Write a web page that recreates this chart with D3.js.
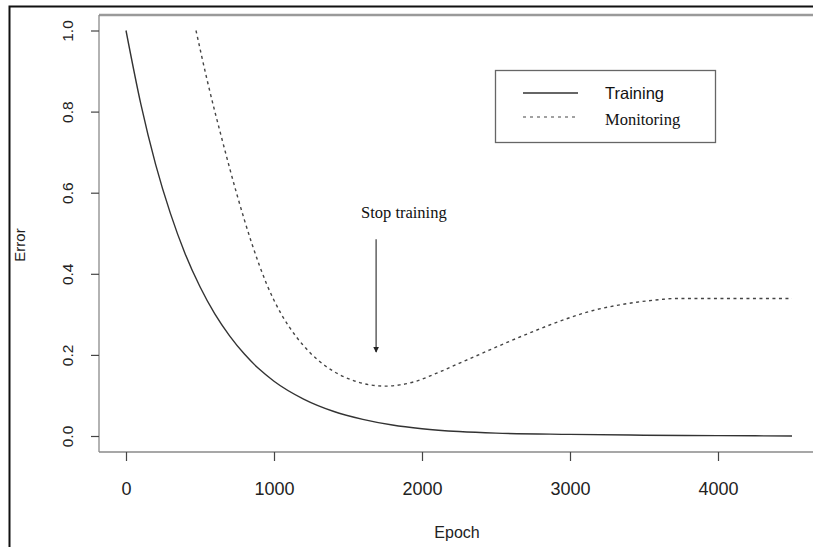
<!DOCTYPE html>
<html>
<head>
<meta charset="utf-8">
<script src="https://cdn.jsdelivr.net/npm/d3@7"></script>
<style>
  html, body { margin: 0; padding: 0; background: #fff; }
  svg { display: block; }
</style>
</head>
<body>
<svg id="chart" width="813" height="547"></svg>
<script>
// Training and monitoring error per epoch
const trainEpochs = [0, 100, 200, 300, 400, 500, 600, 700, 800, 900, 1000, 1200, 1400, 1600, 1800, 2000, 2250, 2500, 3000, 3500, 4000, 4500];
const trainError  = [1.0, 0.819, 0.670, 0.549, 0.449, 0.368, 0.301, 0.247, 0.202, 0.165, 0.135, 0.091, 0.061, 0.041, 0.027, 0.018, 0.011, 0.007, 0.004, 0.002, 0.001, 0.0];

const monitorEpochs = [473, 550, 650, 750, 850, 950, 1050, 1150, 1250, 1350, 1450, 1550, 1650, 1750, 1850, 1950, 2100, 2250, 2400, 2550, 2700, 2850, 3000, 3150, 3300, 3450, 3600, 3700, 3800, 4500];
const monitorError  = [1.0, 0.875, 0.73, 0.595, 0.475, 0.375, 0.30, 0.245, 0.203, 0.172, 0.15, 0.135, 0.126, 0.123, 0.126, 0.134, 0.155, 0.179, 0.203, 0.227, 0.25, 0.272, 0.292, 0.309, 0.321, 0.33, 0.336, 0.339, 0.339, 0.339];

const xTicks = [0, 1000, 2000, 3000, 4000];
const yTicks = [0.0, 0.2, 0.4, 0.6, 0.8, 1.0];

const seriesNames = ["Training", "Monitoring"];
const stopLabel = "Stop training";
const stopEpoch = 1690;
const stopFrom = 0.485, stopTo = 0.207;

const svg = d3.select("#chart");

// Scales
const x = d3.scaleLinear().domain([0, 1000]).range([126, 274]);
const y = d3.scaleLinear().domain([0, 1]).range([436, 30.5]);

// Outer frame (left and top)
svg.append("path")
  .attr("d", "M9.5,547 L9.5,6.5 L813,6.5")
  .attr("fill", "none").attr("stroke", "#111").attr("stroke-width", 2);

// Plot box
const box = { left: 99, top: 15, bottom: 452, right: 830 };
svg.append("line").attr("x1", box.left).attr("x2", box.right).attr("y1", box.top).attr("y2", box.top)
  .attr("stroke", "#9a9a9a").attr("stroke-width", 2.5);
svg.append("line").attr("x1", box.left).attr("x2", box.left).attr("y1", box.top).attr("y2", box.bottom)
  .attr("stroke", "#8a8a8a").attr("stroke-width", 1.3);
svg.append("line").attr("x1", box.left).attr("x2", box.right).attr("y1", box.bottom).attr("y2", box.bottom)
  .attr("stroke", "#8a8a8a").attr("stroke-width", 1.3);

// Y axis
const yAxis = d3.axisLeft(y).tickValues(yTicks).tickSize(8).tickFormat(d3.format(".1f"));
const gy = svg.append("g").attr("transform", `translate(${box.left},0)`).call(yAxis);
gy.select(".domain").remove();
gy.selectAll(".tick line").attr("stroke", "#444").attr("stroke-width", 1.2);
gy.selectAll(".tick text")
  .attr("x", null).attr("dy", null)
  .attr("transform", "translate(-32,0) rotate(-90)")
  .attr("text-anchor", "middle")
  .attr("dominant-baseline", "central")
  .attr("font-family", "'Liberation Sans', Arial, sans-serif")
  .attr("font-size", 15.5)
  .attr("fill", "#222");

// X axis
const xAxis = d3.axisBottom(x).tickValues(xTicks).tickSize(9).tickFormat(d3.format("d"));
const gx = svg.append("g").attr("transform", `translate(0,${box.bottom})`).call(xAxis);
gx.select(".domain").remove();
gx.selectAll(".tick line").attr("stroke", "#444").attr("stroke-width", 1.2);
gx.selectAll(".tick text")
  .attr("y", 43).attr("dy", null)
  .attr("font-family", "'Liberation Sans', Arial, sans-serif")
  .attr("font-size", 18)
  .attr("fill", "#222");

// Axis titles
svg.append("text").attr("x", 457).attr("y", 538)
  .attr("text-anchor", "middle")
  .attr("font-family", "'Liberation Sans', Arial, sans-serif")
  .attr("font-size", 16).attr("fill", "#222").text("Epoch");
svg.append("text")
  .attr("transform", "translate(25,245) rotate(-90)")
  .attr("text-anchor", "middle")
  .attr("font-family", "'Liberation Sans', Arial, sans-serif")
  .attr("font-size", 15).attr("fill", "#222").text("Error");

// Curves
const line = d3.line().x(d => x(d[0])).y(d => y(d[1])).curve(d3.curveMonotoneX);
svg.append("path")
  .datum(d3.zip(trainEpochs, trainError))
  .attr("d", line)
  .attr("fill", "none").attr("stroke", "#333").attr("stroke-width", 1.4);
svg.append("path")
  .datum(d3.zip(monitorEpochs, monitorError))
  .attr("d", line)
  .attr("fill", "none").attr("stroke", "#444").attr("stroke-width", 1.4)
  .attr("stroke-dasharray", "3,3.5");

// Annotation arrow
svg.append("defs").append("marker")
  .attr("id", "arrowhead").attr("viewBox", "0 0 10 10")
  .attr("refX", 9).attr("refY", 5)
  .attr("markerWidth", 6).attr("markerHeight", 6)
  .attr("markerUnits", "userSpaceOnUse")
  .attr("orient", "auto")
  .append("path").attr("d", "M0,0 L10,5 L0,10 z").attr("fill", "#222");
svg.append("line")
  .attr("x1", x(stopEpoch)).attr("x2", x(stopEpoch))
  .attr("y1", y(stopFrom)).attr("y2", y(stopTo))
  .attr("stroke", "#555").attr("stroke-width", 1.4)
  .attr("marker-end", "url(#arrowhead)");
svg.append("text").attr("x", 361).attr("y", 218)
  .attr("font-family", "'Liberation Serif', 'Times New Roman', serif")
  .attr("font-size", 16.5).attr("fill", "#111").text(stopLabel);

// Legend
const legend = svg.append("g");
legend.append("rect").attr("x", 495.5).attr("y", 70.5).attr("width", 220).attr("height", 72)
  .attr("fill", "#fff").attr("stroke", "#666").attr("stroke-width", 1.3);
legend.append("line").attr("x1", 523).attr("x2", 578).attr("y1", 93).attr("y2", 93)
  .attr("stroke", "#333").attr("stroke-width", 1.4);
legend.append("line").attr("x1", 523).attr("x2", 578).attr("y1", 117).attr("y2", 117)
  .attr("stroke", "#444").attr("stroke-width", 1.2).attr("stroke-dasharray", "3,4");
legend.append("text").attr("x", 605).attr("y", 99)
  .attr("font-family", "'Liberation Sans', Arial, sans-serif")
  .attr("font-size", 16.5).attr("fill", "#111").text(seriesNames[0]);
legend.append("text").attr("x", 605).attr("y", 125)
  .attr("font-family", "'Liberation Serif', 'Times New Roman', serif")
  .attr("font-size", 16.5).attr("fill", "#111").text(seriesNames[1]);
</script>
</body>
</html>
